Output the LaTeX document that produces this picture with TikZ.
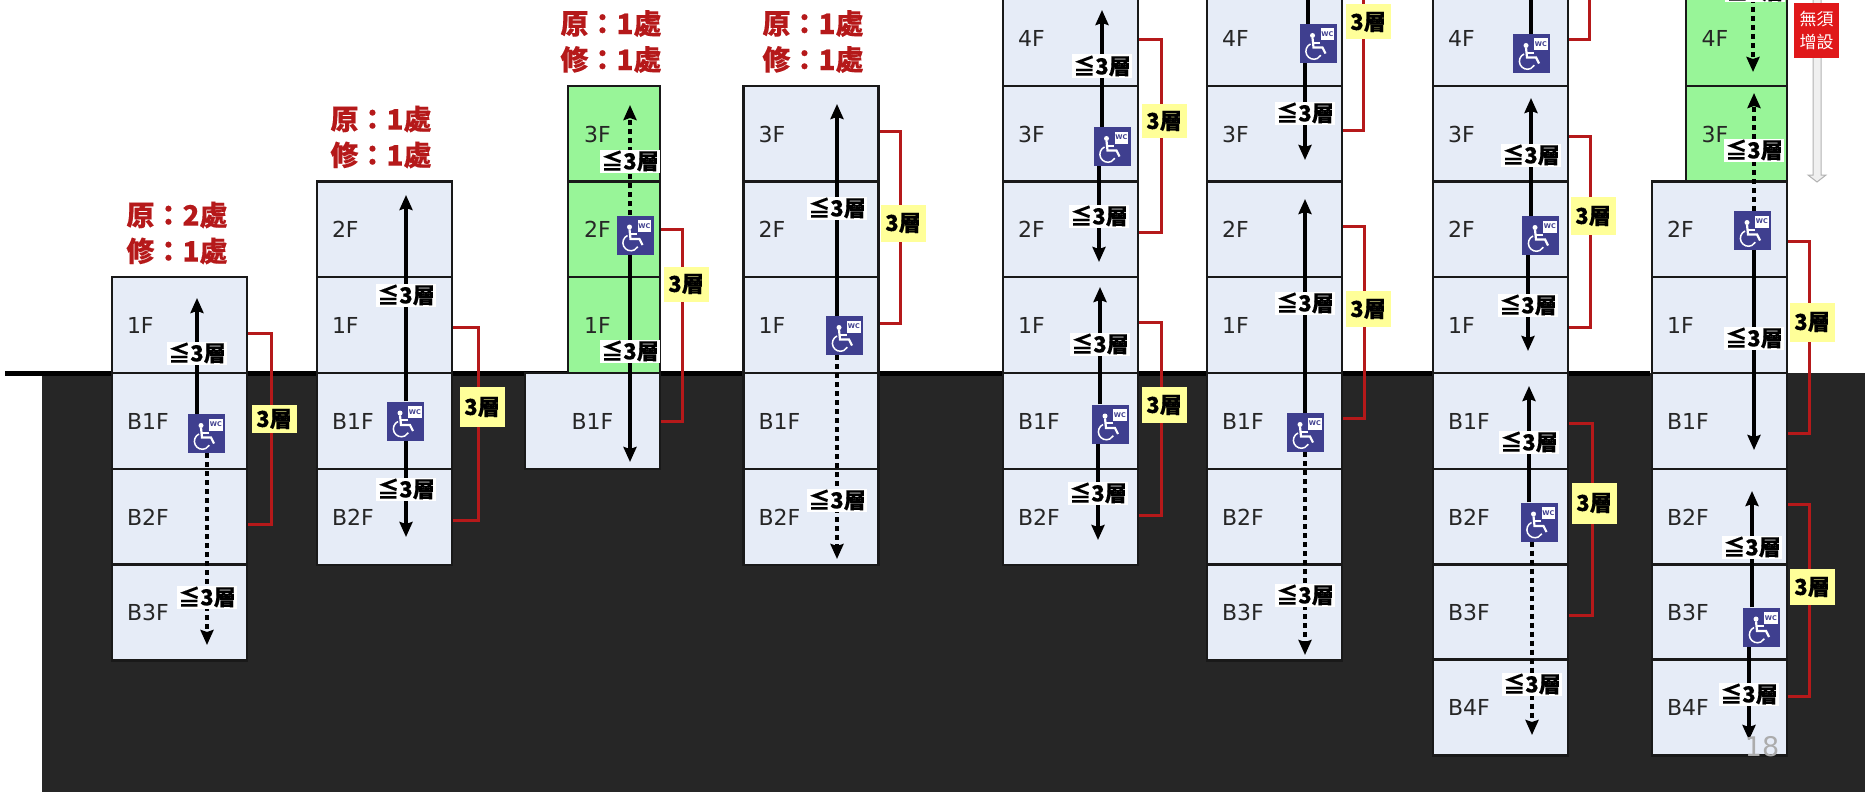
\documentclass[tikz,border=0pt]{standalone}
\usepackage{fontspec}
\setmainfont{DejaVu Sans}
\newfontfamily\cjkfont[BoldFeatures={FakeBold=0.3}]{Noto Sans CJK TC}
\usetikzlibrary{positioning, arrows.meta}
\definecolor{floorblue}{HTML}{E6ECF7}
\definecolor{floorgreen}{HTML}{98F598}
\definecolor{wcblue}{HTML}{3F3F8F}
\definecolor{linkred}{HTML}{B5191A}
\definecolor{countyellow}{HTML}{FFFF99}
\definecolor{ground}{HTML}{262626}
\definecolor{signred}{HTML}{E0181A}
\tikzset{
  floorbox/.style={draw=black!90, line width=2.5pt, fill=floorblue, text=black!85,
    minimum height=96pt, text width=105pt, inner xsep=15pt, inner ysep=0pt, align=left,
    font={\fontsize{22}{26}\selectfont}},
  greenbox/.style={floorbox, fill=floorgreen},
  wcbox/.style={fill=wcblue, minimum width=37pt, minimum height=39pt, inner sep=0pt,
    path picture={
      \begin{scope}[shift={(path picture bounding box.center)}]
        \fill[white] (-5.5,-8) circle (2.5);
        \draw[white, line width=2.2pt] (-5.5,-5.7) -- (-4.5,4) -- (4.5,4) -- (7.5,10);
        \draw[white, line width=1.8pt] (-4.5,-0.7) -- (2,-0.7);
        \draw[white, line width=1.5pt] (-7.5,0.5) arc[start angle=245, end angle=30, radius=8];
        \fill[white] (2.8,-15) rectangle (16,-3);
        \node[font={\fontsize{6.5}{7}\selectfont\bfseries}, wcblue, inner sep=0pt] (wctag) at (9.4,-9) {WC};
      \end{scope}}},
  solidarrow/.style={-{Stealth[length=15pt,width=13pt,inset=2pt]}, line width=3.3pt, black},
  dotarrow/.style={solidarrow, dash pattern=on 5pt off 4pt},
  limitlabel/.style={fill=white, inner xsep=1pt, inner ysep=0pt, minimum height=23pt,
    font={\cjkfont\bfseries\fontsize{22}{22}\selectfont}},
  countlabel/.style={fill=countyellow, minimum width=45pt, inner sep=0pt,
    font={\cjkfont\bfseries\fontsize{22}{22}\selectfont}},
  titlelabel/.style={align=center, text=linkred, inner sep=0pt,
    font={\cjkfont\bfseries\fontsize{28}{36}\selectfont}},
  redlink/.style={linkred, line width=3pt}
}

\begin{document}
\begin{tikzpicture}[x=1pt, y=-1pt]
    \useasboundingbox (0,0) rectangle (1865,792);
    % 地面
    \fill[ground] (42,373) rectangle (1865,792);
    \draw[black, line width=5pt] (5,373) -- (1650,373);
    % 樓層
    \foreach \yy/\fl in {325/1F, 421/B1F, 517/B2F, 612.5/B3F}
      \node[floorbox] (a\fl) at (179.5,\yy) {\fl};
    \foreach \yy/\fl in {229.5/2F, 325/1F, 421/B1F, 517/B2F}
      \node[floorbox] (b\fl) at (384.5,\yy) {\fl};
    \foreach \yy/\fl in {134/3F, 229.5/2F, 325/1F}
      \node[greenbox, text width=60pt, inner xsep=16pt] (c\fl) at (614,\yy) {\fl};
    \node[floorbox, align=center] (cB1F) at (592.5,421) {B1F};
    \foreach \yy/\fl in {134/3F, 229.5/2F, 325/1F, 421/B1F, 517/B2F}
      \node[floorbox] (d\fl) at (811,\yy) {\fl};
    \foreach \yy/\fl in {38/4F, 134/3F, 229.5/2F, 325/1F, 421/B1F, 517/B2F}
      \node[floorbox] (e\fl) at (1070.5,\yy) {\fl};
    \foreach \yy/\fl in {38/4F, 134/3F, 229.5/2F, 325/1F, 421/B1F, 517/B2F, 612.5/B3F}
      \node[floorbox] (f\fl) at (1274.5,\yy) {\fl};
    \foreach \yy/\fl in {38/4F, 134/3F, 229.5/2F, 325/1F, 421/B1F, 517/B2F, 612.5/B3F, 707.5/B4F}
      \node[floorbox] (g\fl) at (1500.5,\yy) {\fl};
    \foreach \yy/\fl in {38/4F, 134/3F}
      \node[greenbox, text width=70pt, inner xsep=15.5pt] (h\fl) at (1736.5,\yy) {\fl};
    \foreach \yy/\fl in {229.5/2F, 325/1F, 421/B1F, 517/B2F, 612.5/B3F, 707.5/B4F}
      \node[floorbox] (h\fl) at (1719.5,\yy) {\fl};
    % 廁所
    \foreach \w/\x/\y in {aw/206.5/433.5, bw/405.5/421, cw/635/235, dw/844.5/335.5,
        ew1/1112/146.5, ew2/1110.5/424, fw1/1318/43.5, fw2/1305.5/432.5,
        gw1/1531.5/53.5, gw2/1540.5/235.5, gw3/1539/522, hw1/1752.5/230.5, hw2/1761.5/627}
      \node[wcbox] (\w) at (\x,\y) {};
    % 動線
    \foreach \w/\x/\y/\kind in {aw/197/298/solidarrow, bw/406/195/solidarrow, cw/630/105/dotarrow,
        dw/837/104/solidarrow, ew1/1102/10/solidarrow, ew2/1100/287/solidarrow,
        fw1/1308/-20/solidarrow, fw2/1305/199/solidarrow, gw1/1531/-20/solidarrow,
        gw2/1531/98/solidarrow, gw3/1529/386/solidarrow, hw1/1754/93/dotarrow, hw2/1752/491/solidarrow}
    {
      \coordinate (\w up) at (\x,\y);
      \draw[\kind] (\w.north -| \w up) -- (\w up);
    }
    \foreach \w/\x/\y/\kind in {aw/207/645/dotarrow, bw/406/537/solidarrow, cw/630/462/solidarrow,
        dw/837/559/dotarrow, ew1/1099/262/solidarrow, ew2/1098/540/solidarrow,
        fw1/1305/160/solidarrow, fw2/1305/655/dotarrow, gw2/1528/351/solidarrow,
        gw3/1532/735/dotarrow, hw1/1754/450/solidarrow, hw2/1749/740/solidarrow}
    {
      \coordinate (\w down) at (\x,\y);
      \draw[\kind] (\w.south -| \w down) -- (\w down);
    }
    \coordinate (htopstart) at (1753,-20);
    \coordinate (htoptip) at (1753,72);
    \draw[dotarrow] (htopstart) -- (htoptip);
    % 紅線
    \draw[redlink] ([yshift=-8pt]a1F.east) -- ++(23,0) |- ([yshift=-7pt]aB2F.east);
    \draw[redlink] ([yshift=-2pt]b1F.east) -- ++(25,0) |- ([yshift=-3pt]bB2F.east);
    \draw[redlink] (c2F.east) -- ++(21,0) |- (cB1F.east);
    \draw[redlink] ([yshift=3pt]d3F.east) -- ++(21,0) |- ([yshift=2pt]d1F.east);
    \draw[redlink] ([yshift=-2pt]e4F.east) -- ++(22,0) |- ([yshift=-2.5pt]e2F.east);
    \draw[redlink] ([yshift=3pt]e1F.east) -- ++(22,0) |- ([yshift=2pt]eB2F.east);
    \coordinate (ftop) at (1363,-20);
    \draw[redlink] ([yshift=4pt]f3F.east) -| (ftop);
    \draw[redlink] ([yshift=3.5pt]f2F.east) -- ++(21,0) |- ([yshift=3pt]fB1F.east);
    \coordinate (gtop) at (1589,-20);
    \draw[redlink] ([yshift=-2pt]g4F.east) -| (gtop);
    \draw[redlink] ([yshift=-2pt]g3F.east) -- ++(21,0) |- ([yshift=-2pt]g1F.east);
    \draw[redlink] ([yshift=-2pt]gB1F.east) -- ++(23,0) |- ([yshift=-2.5pt]gB3F.east);
    \draw[redlink] ([yshift=-11.5pt]h2F.east) -- ++(21,0) |- ([yshift=-12pt]hB1F.east);
    \draw[redlink] ([yshift=13pt]hB2F.east) -- ++(21,0) |- ([yshift=11.5pt]hB4F.east);
    % 標示
    \foreach \x/\y [count=\i] in {197/353, 207/597, 406/295, 406/489, 630/161, 630/351, 837/208, 837/500,
        1102/66, 1099/216, 1100/344, 1098/493, 1305/113, 1305/303, 1305/595,
        1531/155, 1528/305, 1529/442, 1532/684, 1755/-9, 1754/150, 1754/338, 1752/547, 1749/694}
      \node[limitlabel] (lim\i) at (\x,\y) {≦3層};
    \foreach \x/\y/\h [count=\i] in {274/419/28, 482/407/40, 686/284/35, 903/223/37, 1164/121/34, 1164/405/36,
        1368/22/35, 1368/309/36, 1593/216/38, 1594/503/41, 1812/322/39, 1812/587/36}
      \node[countlabel, minimum height=\h pt] (count\i) at (\x,\y) {3層};
    % 原修
    \node[titlelabel] (title1) at (177,233) {原：2處\\修：1處};
    \node[titlelabel] (title2) at (381,137) {原：1處\\修：1處};
    \node[titlelabel] (title3) at (611,41.5) {原：1處\\修：1處};
    \node[titlelabel] (title4) at (813,41.5) {原：1處\\修：1處};
    % 無須增設
    \filldraw[draw=gray!60, fill=gray!12, line width=1pt] (1813,-5) -- (1813,175) -- (1808,175) -- (1817,182)
      -- (1826,175) -- (1821,175) -- (1821,-5) -- cycle;
    \node[fill=signred, text=white, minimum width=45pt, minimum height=55pt, inner sep=0pt, align=center,
      font={\cjkfont\fontsize{17}{23}\selectfont}] (sign) at (1816.5,30.5) {無須\\增設};
    % 頁碼
    \node[text=gray!65, inner sep=0pt, font={\fontsize{27}{27}\selectfont}] (pagenum) at (1762,747) {18};
\end{tikzpicture}
\end{document}
